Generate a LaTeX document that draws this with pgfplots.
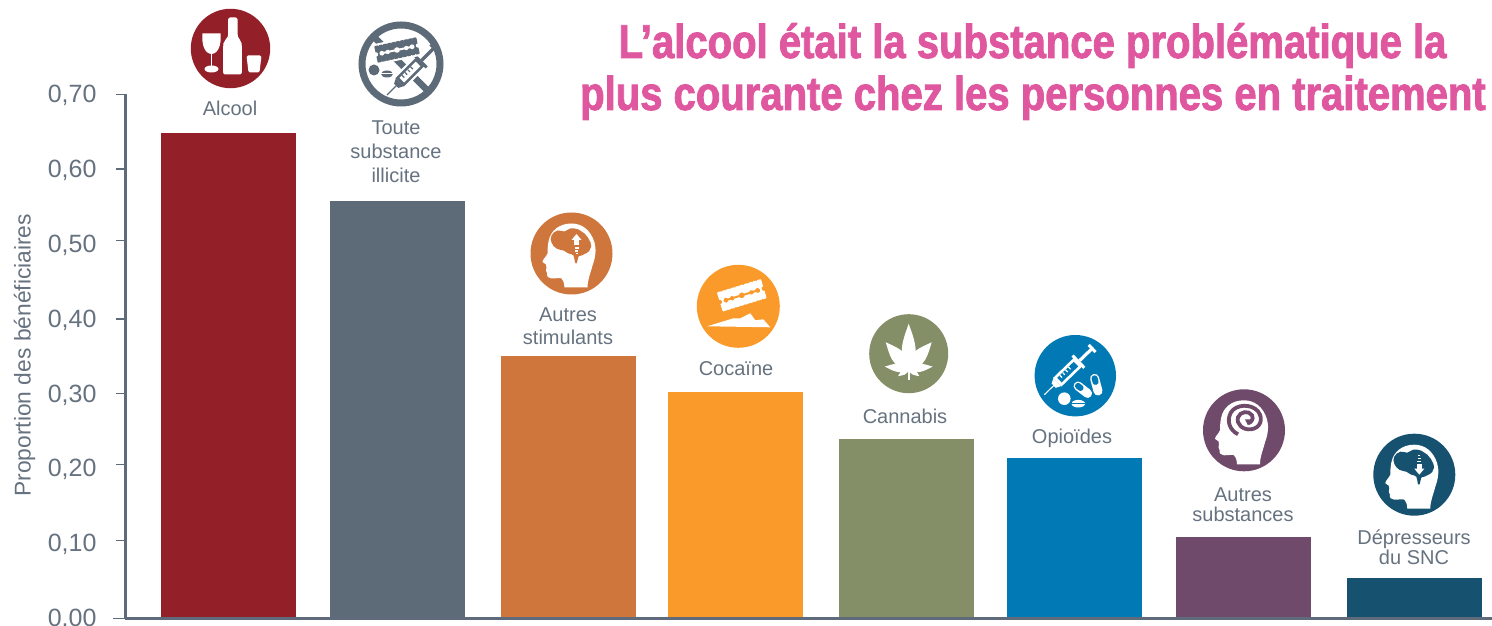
\documentclass[border=0pt]{standalone}
\usepackage{pgfplots}
\pgfplotsset{compat=1.18}
\usepackage{fontspec}
\setmainfont{Liberation Sans}
\newfontfamily\titlefont[UprightFont=* Bold,FakeStretch=0.843,FakeBold=1.8]{Liberation Sans}
\definecolor{axisc}{HTML}{5F6B7A}
\definecolor{textc}{HTML}{66727F}
\definecolor{cA}{HTML}{931F28}
\definecolor{cB}{HTML}{5D6A78}
\definecolor{cC}{HTML}{CF763D}
\definecolor{cD}{HTML}{FA9A2A}
\definecolor{cE}{HTML}{848F68}
\definecolor{cF}{HTML}{0079B5}
\definecolor{cG}{HTML}{6F4A6B}
\definecolor{cH}{HTML}{16526F}
\definecolor{titlec}{HTML}{DF589F}

% razor blade: position, rotation, width, height, colour of blade, colour of slit
\newcommand{\razor}[6]{%
\begin{scope}[shift={(#1)},rotate=#2]
\fill[#5,rounded corners=0.8pt] (-#3/2,-#4/2) rectangle (#3/2,#4/2);
\draw[#6,line width=2pt] (-#3*0.36,0) -- (#3*0.36,0);
\fill[#6] (0,0) circle (2.8pt) (-#3*0.22,0) circle (2.2pt) (#3*0.22,0) circle (2.2pt)
 (-#3*0.36,0) circle (2.4pt) (#3*0.36,0) circle (2.4pt);
\fill[#6] (-#3/2,0) circle (2.2pt) (#3/2,0) circle (2.2pt);
\foreach \s in {-0.4,-0.3,...,0.45}{\fill[#6] (#3*\s,-#4/2) circle (0.6pt) (#3*\s,#4/2) circle (0.6pt);}
\end{scope}}
% syringe: needle tip, rotation, colour, background
\newcommand{\syringe}[4]{%
\begin{scope}[shift={(#1)},rotate=#2]
\draw[#3,line width=1.1pt] (0,0) -- (14,0);
\fill[#3] (13,-3) -- (18,-5.5) -- (18,5.5) -- (13,3) -- cycle;
\fill[#3] (18,-6) rectangle (47,6);
\fill[#4] (21,-3.2) rectangle (44,3.2);
\foreach \q in {24,28,32,36}{\fill[#3] (\q,-3.2) rectangle (\q+1.2,0);}
\fill[#3] (46,-8.5) rectangle (49,8.5);
\fill[#3] (49,-1.6) rectangle (66,1.6);
\fill[#3] (65,-5) rectangle (68,5);
\end{scope}}
% head profile filled with colour #1 (white), centred on the icon
\newcommand{\headshape}[1]{%
\fill[#1] (16,34) .. controls (16,26) and (19,20) .. (21,12)
 .. controls (24,4) and (25,-4) .. (23,-11)
 .. controls (19,-24) and (10,-30) .. (0,-30)
 .. controls (-12,-30) and (-21,-23) .. (-23,-12)
 .. controls (-24,-6) and (-24,-3) .. (-24,0)
 .. controls (-25,3) and (-29,6) .. (-29,8.5)
 -- (-25.5,11) -- (-25,14) -- (-25.5,17) -- (-24.5,19.5)
 .. controls (-25,23) and (-23,25) .. (-20,25)
 .. controls (-15,25) and (-11,24) .. (-10,25)
 .. controls (-7.5,28) and (-7,31) .. (-7,34) -- cycle;}
% brain blob
\newcommand{\brain}[1]{%
\fill[#1] plot[smooth cycle,tension=0.75] coordinates {(-20,-18) (-14,-23) (-7,-22) (-1,-25) (7,-24) (13,-20) (19,-11) (18,-3) (10,2) (7,3) (5.5,9) (3.5,9) (2,2) (-3,0) (-8,-3) (-15,-5) (-20,-11)};}
% leaflet: rotation, length, half-width
\newcommand{\leaflet}[3]{%
\fill[white,rotate=#1] (0,0) .. controls (#3,-#2*0.3) and (#3*0.35,-#2*0.7) .. (0,-#2)
 .. controls (-#3*0.35,-#2*0.7) and (-#3,-#2*0.3) .. (0,0);}
% capsule
\newcommand{\capsule}[5]{%
\begin{scope}[shift={(#1)},rotate=#2]
\fill[white,rounded corners=#4*0.49] (-#3/2,-#4/2) rectangle (#3/2,#4/2);
\fill[#5,rounded corners=#4*0.3] (-#3/2+1.5,-#4/2+1.5) rectangle (0,#4/2-1.5);
\end{scope}}

\begin{document}
\begin{tikzpicture}
\path[use as bounding box] (0,0) rectangle (1492pt,626pt);
\begin{axis}[
  at={(125.5pt,7.3pt)}, anchor=origin,
  scale only axis, width=1366.5pt, height=524.4pt,
  xmin=125.5, xmax=1492, ymin=0, ymax=0.70,
  axis lines*=left,
  axis line style={axisc,line width=3pt},
  xtick=\empty,
  ytick={0,0.1,0.2,0.3,0.4,0.5,0.6,0.7},
  yticklabels={{0,00},{0,10},{0,20},{0,30},{0,40},{0,50},{0,60},{0,70}},
  tick align=outside,
  major tick length=0pt,
  tick style={axisc,line width=1.2pt},
  ytick pos=left,
  extra y ticks={0.1041,0.2055,0.3002,0.4,0.5045,0.6003,0.7},
  extra y tick labels={},
  extra tick style={major tick length=9.5pt},
  yticklabel style={
    font=\fontsize{25}{25}\selectfont,
    text=textc, anchor=east, xshift=-25.5pt, yshift=-1pt},
  ylabel={Proportion des bénéficiaires},
  ylabel style={font=\fontsize{22.8}{22.8}\selectfont,text=textc},
  every axis y label/.append style={at={(-101pt,263.5pt)},anchor=center,rotate=0},
  ybar, bar width=135pt, bar shift=0pt, clip=false,
]
\addplot[draw=none,fill=cA] coordinates {(228.5,0.6484)};
\addplot[draw=none,fill=cB] coordinates {(397.5,0.5577)};
\addplot[draw=none,fill=cC] coordinates {(568.5,0.3507)};
\addplot[draw=none,fill=cD] coordinates {(735.5,0.3027)};
\addplot[draw=none,fill=cE] coordinates {(906.5,0.2399)};
\addplot[draw=none,fill=cF] coordinates {(1074.5,0.2145)};
\addplot[draw=none,fill=cG] coordinates {(1243.5,0.1091)};
\addplot[draw=none,fill=cH] coordinates {(1414.5,0.0543)};
\end{axis}

% everything below is placed in the pixel frame of the reference
\begin{scope}[x=1pt,y=-1pt,yshift=626pt]
\draw[axisc,line width=1.2pt] (113,618.9) -- (126,618.9);
\draw[axisc,line width=3pt] (125.5,618.7) -- (1492,618.7);

% labels
\tikzset{lab/.style={font=\fontsize{20}{20}\selectfont,text=textc,anchor=base,inner sep=0pt,yshift=-1pt}}
\node[lab] at (230,115) {Alcool};
\node[lab] at (396,134) {Toute};
\node[lab] at (396,158) {substance};
\node[lab] at (396,182) {illicite};
\node[lab] at (568,320.7) {Autres};
\node[lab] at (568,343.5) {stimulants};
\node[lab] at (736,375) {Cocaïne};
\node[lab] at (905,423) {Cannabis};
\node[lab] at (1072,442.7) {Opioïdes};
\node[lab] at (1243,500.7) {Autres};
\node[lab] at (1243,520.7) {substances};
\node[lab] at (1414,544) {Dépresseurs};
\node[lab] at (1414,564) {du SNC};

% title
\tikzset{ttl/.style={font=\titlefont\fontsize{47.5}{47.5}\selectfont,text=titlec,anchor=base,inner sep=0pt}}
\node[ttl] at (1032.5,58) {L’alcool était la substance problématique la};
\node[ttl] at (1033,110) {plus courante chez les personnes en traitement};

% icon: alcohol
\begin{scope}[shift={(230.5,48.5)}]
\fill[cA] (0,0) circle (39.7);
\fill[white] (-28,-15) -- (-10,-15) .. controls (-9,-4) and (-12,5) .. (-19,5.5) .. controls (-26,5) and (-29,-4) .. (-28,-15) -- cycle;
\fill[white] (-20,4) rectangle (-18.6,19);
\fill[white] (-19,20.5) ellipse (7 and 3.5);
\fill[white,rounded corners=2pt] (-2.3,-31) -- (7,-31) -- (7,-14) .. controls (8,-9) and (11,-8) .. (11.3,-3) -- (11.3,26) -- (-7.3,26) -- (-7.3,-3) .. controls (-7,-8) and (-3.3,-9) .. (-2.3,-14) -- cycle;
\fill[white,rounded corners=1.5pt] (16,7) -- (31,7) -- (29,24) -- (18,24) -- cycle;
\end{scope}

% icon: any illicit substance
\begin{scope}[shift={(401,64)}]
\draw[cB,line width=7pt] (0,0) circle (39);
\draw[cB,line width=6.5pt] (-26,-26) -- (26,26);
\begin{scope}[shift={(-14,31)},rotate=45]
\fill[white] (12,-8) rectangle (50,8);
\end{scope}
\syringe{-14,31}{45}{cB}{white}
\begin{scope}[shift={(-4,-14)},rotate=12]
\fill[white] (-23,-10.5) rectangle (23,10.5);
\end{scope}
\razor{-4,-14}{12}{43}{17}{cB}{white}
\fill[cB] (-27,6) circle (5.5);
\fill[cB] (-14,10) ellipse (6 and 3.5);
\draw[white,line width=1pt] (-20,10) -- (-8,10);
\end{scope}

% icon: other stimulants
\begin{scope}[shift={(571.5,253.5)}]
\fill[cC] (0,0) circle (41);
\headshape{white}
\brain{cC}
\fill[white] (5,-19.5) -- (10,-13.5) -- (0,-13.5) -- cycle;
\fill[white] (2.5,-13.5) rectangle (7.5,-8);
\fill[white] (3,-6.5) rectangle (7,-4.5);
\fill[white] (3.5,-3) rectangle (6.5,-1.5);
\fill[white] (4,0) rectangle (6,1);
\end{scope}

% icon: cocaine
\begin{scope}[shift={(738.3,306.3)}]
\fill[cD] (0,0) circle (41.5);
\razor{3.5,-11}{17}{46}{20}{white}{cD}
\fill[white] (-31,20) -- (-5,12) -- (2,12) -- (12,7) -- (17,14) -- (25,13) -- (32,21) -- cycle;
\end{scope}

% icon: cannabis
\begin{scope}[shift={(908.7,353.7)}]
\fill[cE] (0,0) circle (39.5);
\fill[white] (-1,12) rectangle (1,26);
\begin{scope}[shift={(0,15)}]
\leaflet{0}{45}{13}
\leaflet{-41}{35}{13}
\leaflet{41}{35}{13}
\leaflet{-85}{24}{8}
\leaflet{85}{24}{8}
\leaflet{-125}{13}{5}
\leaflet{125}{13}{5}
\end{scope}
\end{scope}

% icon: opioids
\begin{scope}[shift={(1075.3,375.7)}]
\fill[cF] (0,0) circle (40.7);
\syringe{-31,19}{44}{white}{cF}
\capsule{7.5,14}{-38}{21}{9}{cF}
\capsule{21,9}{-75}{22}{9}{cF}
\fill[white] (-11,23) circle (6.3);
\fill[white] (3,28) ellipse (6.8 and 3.8);
\draw[cF,line width=0.9pt] (-4,27.5) -- (10,27.5);
\end{scope}

% icon: other substances
\begin{scope}[shift={(1244,430.3)}]
\fill[cG] (0,0) circle (41);
\headshape{white}
\draw[cG,line width=3.8pt] (-6,4) .. controls (-14,0) and (-18,-9) .. (-13,-18)
 .. controls (-8,-26) and (7,-27) .. (14,-19)
 .. controls (20,-11) and (16,-2) .. (7,-1)
 .. controls (-1,0) and (-8,-6) .. (-6,-13)
 .. controls (-4,-19) and (5,-20) .. (8,-15)
 .. controls (10,-11) and (7,-8) .. (4,-7);
\fill[cG] (1,-11) -- (9,-11) -- (4,-5) -- cycle;
\end{scope}

% icon: CNS depressants
\begin{scope}[shift={(1414.3,474.7)}]
\fill[cH] (0,0) circle (41);
\headshape{white}
\brain{cH}
\fill[white] (5,0) -- (10,-6) -- (0,-6) -- cycle;
\fill[white] (2.5,-11) rectangle (7.5,-6);
\fill[white] (3,-14) rectangle (7,-12.5);
\fill[white] (3.5,-17) rectangle (6.5,-15.5);
\fill[white] (4,-20) rectangle (6,-18.5);
\end{scope}
\end{scope}
\end{tikzpicture}
\end{document}
